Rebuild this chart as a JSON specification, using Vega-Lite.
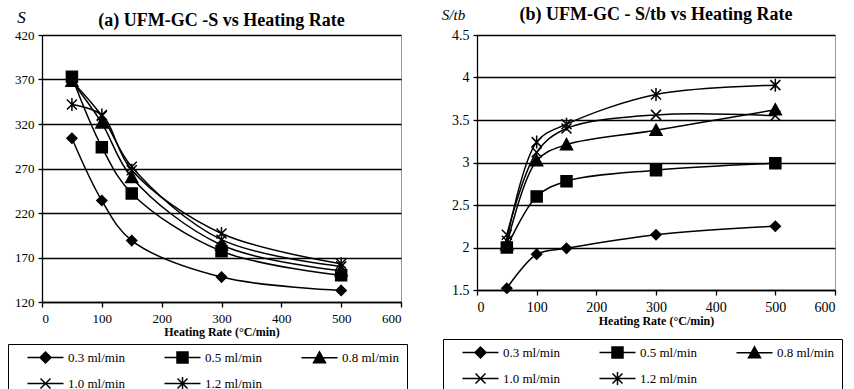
{
  "$schema": "https://vega.github.io/schema/vega-lite/v6.json",
  "background": "white",
  "padding": {"left": 7, "top": 5, "right": 2, "bottom": 0},
  "spacing": 32,
  "align": "none",
  "config": {
    "font": "Liberation Serif, Times New Roman, DejaVu Serif, serif",
    "view": {"stroke": "#999999", "strokeWidth": 1},
    "axis": {
      "labelFont": "Liberation Serif, Times New Roman, DejaVu Serif, serif", "labelFontSize": 13, "labelColor": "black",
      "domainColor": "black", "domainWidth": 1.3, "tickColor": "black", "tickWidth": 1.3,
      "gridColor": "black", "gridWidth": 1.3, "gridOpacity": 1,
      "titleFont": "Liberation Serif, Times New Roman, DejaVu Serif, serif", "titleColor": "black"
    },
    "title": {"font": "Liberation Serif, Times New Roman, DejaVu Serif, serif", "fontSize": 18, "fontWeight": "bold", "color": "black"},
    "point": {"filled": true, "size": 100, "color": "black", "stroke": "black", "strokeWidth": 1.5, "opacity": 1},
    "legend": {
      "orient": "none", "direction": "horizontal", "columns": 3, "title": null,
      "labelFont": "Liberation Serif, Times New Roman, DejaVu Serif, serif", "labelFontSize": 13, "labelColor": "black",
      "symbolSize": 100, "symbolStrokeWidth": 1.5, "symbolFillColor": "black", "symbolStrokeColor": "black",
      "symbolOffset": 11, "labelOffset": 29, "columnPadding": 26, "rowPadding": 8, "padding": 7,
      "strokeColor": "black"
    }
  },
  "datasets": {
    "a": [
      {"rate": 50, "series": "0.3 ml/min", "value": 304},
      {"rate": 100, "series": "0.3 ml/min", "value": 234},
      {"rate": 150, "series": "0.3 ml/min", "value": 189},
      {"rate": 300, "series": "0.3 ml/min", "value": 148},
      {"rate": 500, "series": "0.3 ml/min", "value": 133},
      {"rate": 50, "series": "0.5 ml/min", "value": 373},
      {"rate": 100, "series": "0.5 ml/min", "value": 294},
      {"rate": 150, "series": "0.5 ml/min", "value": 242},
      {"rate": 300, "series": "0.5 ml/min", "value": 177},
      {"rate": 500, "series": "0.5 ml/min", "value": 150},
      {"rate": 50, "series": "0.8 ml/min", "value": 368},
      {"rate": 100, "series": "0.8 ml/min", "value": 321},
      {"rate": 150, "series": "0.8 ml/min", "value": 260},
      {"rate": 300, "series": "0.8 ml/min", "value": 184},
      {"rate": 500, "series": "0.8 ml/min", "value": 155},
      {"rate": 50, "series": "1.0 ml/min", "value": 368},
      {"rate": 100, "series": "1.0 ml/min", "value": 329},
      {"rate": 150, "series": "1.0 ml/min", "value": 272},
      {"rate": 300, "series": "1.0 ml/min", "value": 190},
      {"rate": 500, "series": "1.0 ml/min", "value": 160},
      {"rate": 50, "series": "1.2 ml/min", "value": 342},
      {"rate": 100, "series": "1.2 ml/min", "value": 330},
      {"rate": 150, "series": "1.2 ml/min", "value": 268},
      {"rate": 300, "series": "1.2 ml/min", "value": 197},
      {"rate": 500, "series": "1.2 ml/min", "value": 163}
    ],
    "b": [
      {"rate": 50, "series": "0.3 ml/min", "value": 1.52},
      {"rate": 100, "series": "0.3 ml/min", "value": 1.92},
      {"rate": 150, "series": "0.3 ml/min", "value": 1.99},
      {"rate": 300, "series": "0.3 ml/min", "value": 2.15},
      {"rate": 500, "series": "0.3 ml/min", "value": 2.25},
      {"rate": 50, "series": "0.5 ml/min", "value": 2.0},
      {"rate": 100, "series": "0.5 ml/min", "value": 2.6},
      {"rate": 150, "series": "0.5 ml/min", "value": 2.78},
      {"rate": 300, "series": "0.5 ml/min", "value": 2.91},
      {"rate": 500, "series": "0.5 ml/min", "value": 2.99},
      {"rate": 50, "series": "0.8 ml/min", "value": 2.03},
      {"rate": 100, "series": "0.8 ml/min", "value": 3.02},
      {"rate": 150, "series": "0.8 ml/min", "value": 3.21},
      {"rate": 300, "series": "0.8 ml/min", "value": 3.38},
      {"rate": 500, "series": "0.8 ml/min", "value": 3.62},
      {"rate": 50, "series": "1.0 ml/min", "value": 2.15},
      {"rate": 100, "series": "1.0 ml/min", "value": 3.12},
      {"rate": 150, "series": "1.0 ml/min", "value": 3.4},
      {"rate": 300, "series": "1.0 ml/min", "value": 3.56},
      {"rate": 500, "series": "1.0 ml/min", "value": 3.55},
      {"rate": 50, "series": "1.2 ml/min", "value": 2.08},
      {"rate": 100, "series": "1.2 ml/min", "value": 3.24},
      {"rate": 150, "series": "1.2 ml/min", "value": 3.45},
      {"rate": 300, "series": "1.2 ml/min", "value": 3.8},
      {"rate": 500, "series": "1.2 ml/min", "value": 3.91}
    ]
  },
  "resolve": {"scale": {"shape": "independent", "stroke": "independent", "y": "independent"}, "legend": {"shape": "independent", "stroke": "independent"}},
  "hconcat": [
    {
      "width": 359,
      "height": 267,
      "title": {"text": "(a)  UFM-GC -S vs Heating Rate", "offset": -22},
      "data": {"name": "a"},
      "encoding": {
        "x": {"field": "rate", "type": "quantitative",
          "scale": {"domain": [0, 600], "nice": false},
          "axis": {"values": [0, 100, 200, 300, 400, 500, 600], "grid": false, "title": "Heating Rate (°C/min)",
            "titleFontSize": 12, "titleFontWeight": "bold", "titlePadding": 1, "tickSize": 5, "labelPadding": 5}},
        "y": {"field": "value", "type": "quantitative",
          "scale": {"domain": [120, 420], "nice": false, "zero": false},
          "axis": {"values": [120, 170, 220, 270, 320, 370, 420], "grid": true, "title": "S",
            "titleAngle": 0, "titleFontStyle": "italic", "titleFontWeight": "normal", "titleFontSize": 17,
            "titleX": -21, "titleY": -13, "titleAlign": "center", "titleBaseline": "alphabetic", "tickSize": 4, "labelPadding": 4}}
      },
      "layer": [
        {"mark": {"type": "line", "interpolate": "catmull-rom", "color": "black", "strokeWidth": 1.5},
         "encoding": {"detail": {"field": "series", "type": "nominal"}}},
        {"transform": [{"filter": "datum.series === '0.3 ml/min'"}], "mark": {"type": "point", "shape": "M0,-1L1,0L0,1L-1,0Z"}},
        {"transform": [{"filter": "datum.series === '0.5 ml/min'"}], "mark": {"type": "point", "shape": "M-1.1,-1.1L1.1,-1.1L1.1,1.1L-1.1,1.1Z"}},
        {"transform": [{"filter": "datum.series === '0.8 ml/min'"}], "mark": {"type": "point", "shape": "M0,-1.2L1.2,1L-1.2,1Z"}},
        {"transform": [{"filter": "datum.series === '1.0 ml/min'"}], "mark": {"type": "point", "shape": "M-1,-1L1,1M-1,1L1,-1"}},
        {"transform": [{"filter": "datum.series === '1.2 ml/min'"}], "mark": {"type": "point", "shape": "M-1,-1L1,1M-1,1L1,-1M0,-1.3L0,1.3"}},
        {"transform": [{"filter": "datum.rate < 0"}],
         "mark": {"type": "point"},
         "encoding": {
           "shape": {"field": "series", "type": "nominal",
             "scale": {"domain": ["0.3 ml/min", "0.5 ml/min", "0.8 ml/min", "1.0 ml/min", "1.2 ml/min"],
               "range": ["M-1,0L6.2,0M2.6,-1.1L3.7,0L2.6,1.1L1.5,0Z", "M-1,0L6.2,0M1.5,-1.1L3.7,-1.1L3.7,1.1L1.5,1.1Z", "M-1,0L6.2,0M2.6,-1.2L3.8,1L1.4,1Z", "M-1,0L6.2,0M1.6,-1L3.6,1M1.6,1L3.6,-1", "M-1,0L6.2,0M1.6,-1L3.6,1M1.6,1L3.6,-1M2.6,-1.3L2.6,1.3"]},
             "legend": {"legendX": -34, "legendY": 309}},
           "stroke": {"field": "series", "type": "nominal",
             "scale": {"domain": ["0.3 ml/min", "0.5 ml/min", "0.8 ml/min", "1.0 ml/min", "1.2 ml/min"],
               "range": ["black", "black", "black", "black", "black"]},
             "legend": {"legendX": -34, "legendY": 309}}
         }}
      ]
    },
    {
      "width": 358,
      "height": 255,
      "title": {"text": "(b) UFM-GC - S/tb vs Heating Rate", "offset": -17},
      "data": {"name": "b"},
      "encoding": {
        "x": {"field": "rate", "type": "quantitative",
          "scale": {"domain": [0, 600], "nice": false},
          "axis": {"values": [0, 100, 200, 300, 400, 500, 600], "grid": false, "title": "Heating Rate (°C/min)",
            "titleFontSize": 12, "titleFontWeight": "bold", "titlePadding": 1, "tickSize": 5, "labelPadding": 5,
            "labelFontSize": 14}},
        "y": {"field": "value", "type": "quantitative",
          "scale": {"domain": [1.5, 4.5], "nice": false, "zero": false},
          "axis": {"values": [1.5, 2, 2.5, 3, 3.5, 4, 4.5], "format": ".1~f", "grid": true, "title": "S/tb",
            "titleAngle": 0, "titleFontStyle": "italic", "titleFontWeight": "normal", "titleFontSize": 15,
            "titleX": -24, "titleY": -16, "titleAlign": "center", "titleBaseline": "alphabetic", "tickSize": 4, "labelPadding": 4,
            "labelFontSize": 14}}
      },
      "layer": [
        {"mark": {"type": "line", "interpolate": "catmull-rom", "color": "black", "strokeWidth": 1.5},
         "encoding": {"detail": {"field": "series", "type": "nominal"}}},
        {"transform": [{"filter": "datum.series === '0.3 ml/min'"}], "mark": {"type": "point", "shape": "M0,-1L1,0L0,1L-1,0Z"}},
        {"transform": [{"filter": "datum.series === '0.5 ml/min'"}], "mark": {"type": "point", "shape": "M-1.1,-1.1L1.1,-1.1L1.1,1.1L-1.1,1.1Z"}},
        {"transform": [{"filter": "datum.series === '0.8 ml/min'"}], "mark": {"type": "point", "shape": "M0,-1.2L1.2,1L-1.2,1Z"}},
        {"transform": [{"filter": "datum.series === '1.0 ml/min'"}], "mark": {"type": "point", "shape": "M-1,-1L1,1M-1,1L1,-1"}},
        {"transform": [{"filter": "datum.series === '1.2 ml/min'"}], "mark": {"type": "point", "shape": "M-1,-1L1,1M-1,1L1,-1M0,-1.3L0,1.3"}},
        {"transform": [{"filter": "datum.rate < 0"}],
         "mark": {"type": "point"},
         "encoding": {
           "shape": {"field": "series", "type": "nominal",
             "scale": {"domain": ["0.3 ml/min", "0.5 ml/min", "0.8 ml/min", "1.0 ml/min", "1.2 ml/min"],
               "range": ["M-1,0L6.2,0M2.6,-1.1L3.7,0L2.6,1.1L1.5,0Z", "M-1,0L6.2,0M1.5,-1.1L3.7,-1.1L3.7,1.1L1.5,1.1Z", "M-1,0L6.2,0M2.6,-1.2L3.8,1L1.4,1Z", "M-1,0L6.2,0M1.6,-1L3.6,1M1.6,1L3.6,-1", "M-1,0L6.2,0M1.6,-1L3.6,1M1.6,1L3.6,-1M2.6,-1.3L2.6,1.3"]},
             "legend": {"legendX": -34, "legendY": 304}},
           "stroke": {"field": "series", "type": "nominal",
             "scale": {"domain": ["0.3 ml/min", "0.5 ml/min", "0.8 ml/min", "1.0 ml/min", "1.2 ml/min"],
               "range": ["black", "black", "black", "black", "black"]},
             "legend": {"legendX": -34, "legendY": 304}}
         }}
      ]
    }
  ]
}
